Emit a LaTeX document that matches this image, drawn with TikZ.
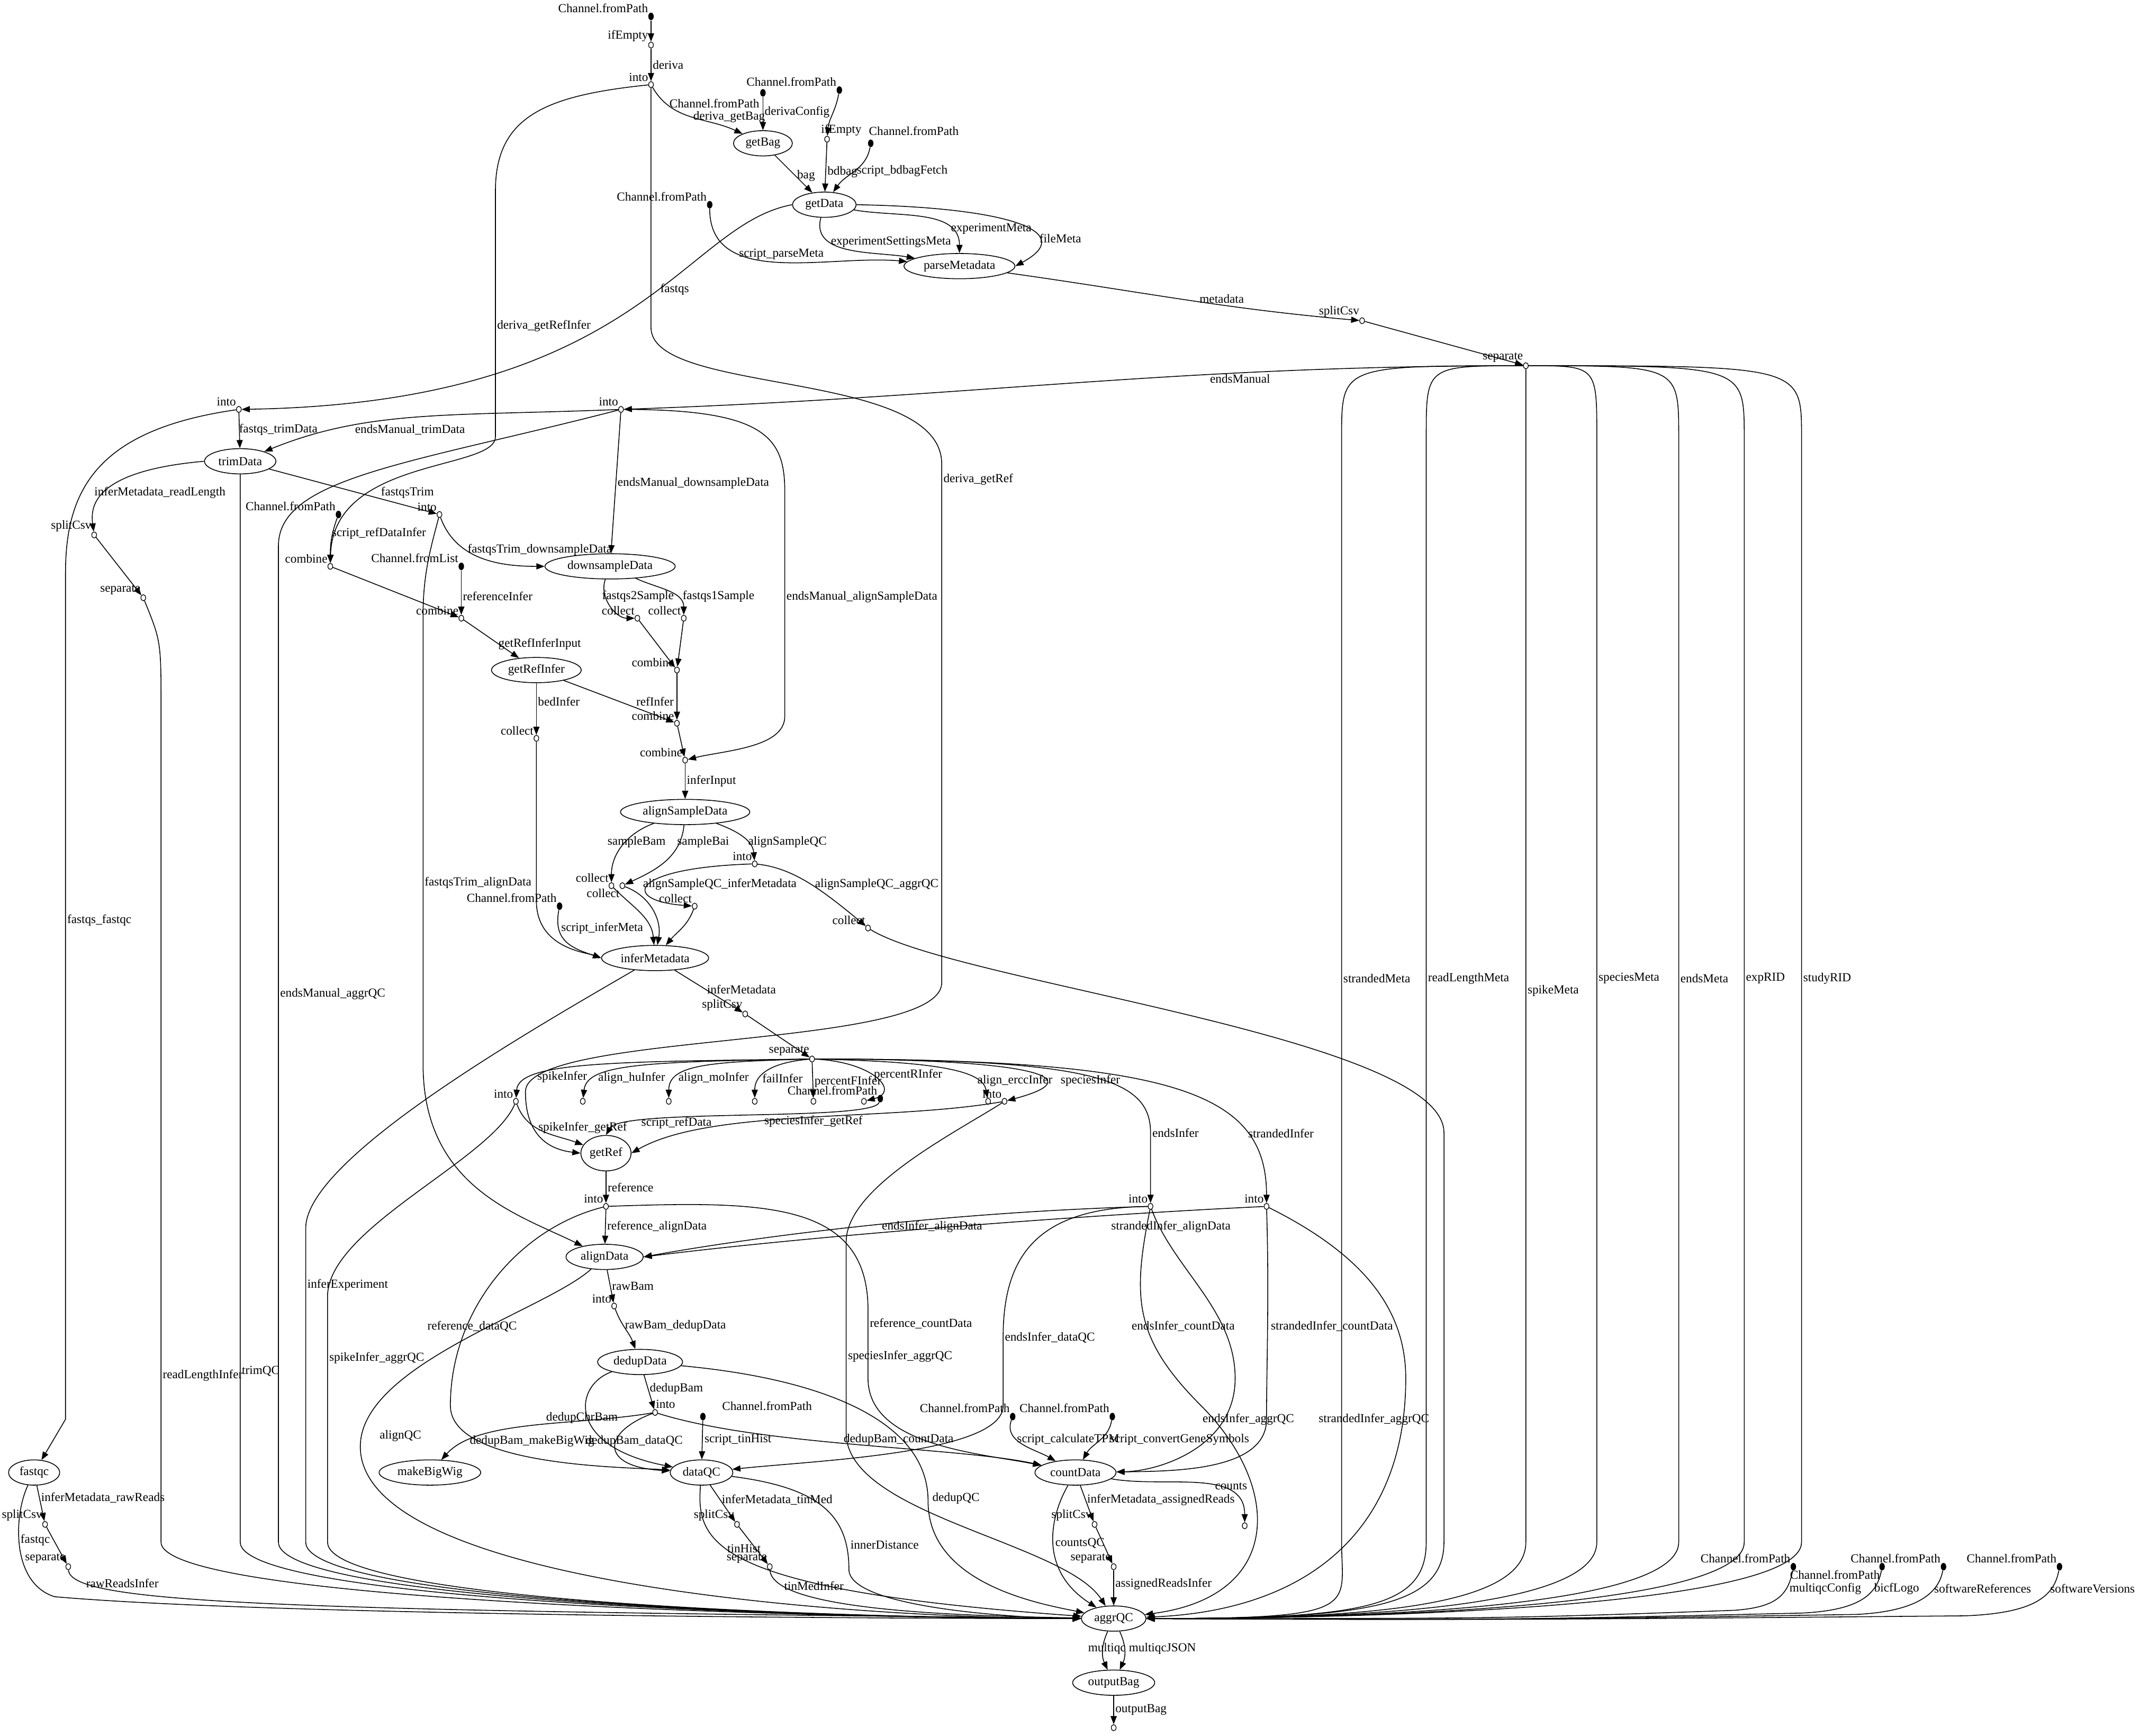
\documentclass[tikz,border=0pt]{standalone}
\usepackage{fontspec}
\setmainfont{Liberation Serif}
\usetikzlibrary{shapes.geometric,arrows.meta}
\newcommand\ptlabel[2]{\node[xlt,anchor=south east] at (#1.north west) {#2};}
\begin{document}
\begin{tikzpicture}[x=1pt,y=-1pt,font=\fontsize{9}{10}\selectfont,
  e/.style={-{Triangle[length=6pt,width=4.5pt]},line width=0.6pt},
  lab/.style={inner sep=1pt,anchor=west},
  xlt/.style={inner sep=0.5pt},
  op/.style={ellipse,draw,fill=white,minimum width=3.5pt,minimum height=4.5pt,inner sep=0,line width=0.5pt},
  src/.style={ellipse,fill=black,minimum width=4pt,minimum height=5.5pt,inner sep=0},
  proc/.style={ellipse,draw,inner xsep=2.5pt,inner ysep=0pt,minimum height=18.5pt,line width=0.6pt}]
\useasboundingbox (0,0) rectangle (1568,1272);
% ---------- nodes ----------
\node[src] (cfpA) at (477,12) {}; \ptlabel{cfpA}{Channel.fromPath}
\node[op] (ifE1) at (477,33) {}; \ptlabel{ifE1}{ifEmpty}
\node[op] (into1) at (477,62) {}; \ptlabel{into1}{into}
\node[src] (cfpB) at (559,68) {}; \node[xlt,anchor=east] at (557,76) {Channel.fromPath};
\node[src] (cfpC) at (615,66) {}; \ptlabel{cfpC}{Channel.fromPath}
\node[proc] (getBag) at (559,105) {getBag};
\node[op] (ifE2) at (606,102) {}; \node[xlt,anchor=south west] at (601,100) {ifEmpty};
\node[src] (cfpD) at (638,105) {}; \node[xlt,anchor=south west] at (636,100) {Channel.fromPath};
\node[proc] (getData) at (604,150) {getData};
\node[src] (cfpE) at (520,150) {}; \ptlabel{cfpE}{Channel.fromPath}
\node[proc] (parseMetadata) at (703,195) {parseMetadata};
\node[op] (split1) at (998,235) {}; \ptlabel{split1}{splitCsv}
\node[op] (sep1) at (1118,268) {}; \ptlabel{sep1}{separate}
\node[op] (into2) at (175,300) {}; \ptlabel{into2}{into}
\node[op] (into3) at (455,300) {}; \ptlabel{into3}{into}
\node[proc] (trimData) at (176,338) {trimData};
\node[op] (split2) at (69,392) {}; \ptlabel{split2}{splitCsv}
\node[op] (sep3) at (105,438) {}; \ptlabel{sep3}{separate}
\node[op] (into4) at (322,377) {}; \ptlabel{into4}{into}
\node[src] (cfpF) at (248,377) {}; \ptlabel{cfpF}{Channel.fromPath}
\node[op] (comb1) at (242,415) {}; \ptlabel{comb1}{combine}
\node[proc] (downsampleData) at (447,415) {downsampleData};
\node[src] (cfl) at (338,415) {}; \ptlabel{cfl}{Channel.fromList}
\node[op] (comb2) at (338,453) {}; \ptlabel{comb2}{combine}
\node[op] (coll1) at (467,453) {}; \ptlabel{coll1}{collect}
\node[op] (coll2) at (501,453) {}; \ptlabel{coll2}{collect}
\node[proc] (getRefInfer) at (393,491) {getRefInfer};
\node[op] (comb3) at (496,491) {}; \ptlabel{comb3}{combine}
\node[op] (comb4) at (496,530) {}; \ptlabel{comb4}{combine}
\node[op] (coll3) at (393,541) {}; \ptlabel{coll3}{collect}
\node[op] (comb5) at (502,557) {}; \ptlabel{comb5}{combine}
\node[proc] (alignSampleData) at (502,595) {alignSampleData};
\node[op] (into5) at (553,633) {}; \ptlabel{into5}{into}
\node[op] (coll4) at (448,649) {}; \ptlabel{coll4}{collect}
\node[op] (coll5) at (456,649) {}; \node[xlt,anchor=north east] at (coll5.south west) {collect};
\node[op] (coll6) at (509,664) {}; \ptlabel{coll6}{collect}
\node[op] (coll7) at (636,680) {}; \ptlabel{coll7}{collect}
\node[src] (cfpG) at (410,664) {}; \ptlabel{cfpG}{Channel.fromPath}
\node[proc] (inferMetadata) at (480,702) {inferMetadata};
\node[op] (split3) at (546,743) {}; \ptlabel{split3}{splitCsv}
\node[op] (sep4) at (595,776) {}; \ptlabel{sep4}{separate}
\node[op] (into6) at (378,807) {}; \ptlabel{into6}{into}
\node[op] (pHu) at (427,807) {};
\node[op] (pMo) at (490,807) {};
\node[op] (pFail) at (553,807) {};
\node[op] (pPF) at (596,807) {};
\node[op] (pPR) at (633,807) {};
\node[src] (cfpH) at (645,805) {}; \ptlabel{cfpH}{Channel.fromPath}
\node[op] (pErcc) at (724,807) {};
\node[op] (into7) at (736,807) {}; \ptlabel{into7}{into}
\node[proc,minimum width=26pt,minimum height=26pt,inner xsep=1pt] (getRef) at (444,845) {getRef};
\node[op] (into10) at (444,884) {}; \ptlabel{into10}{into}
\node[op] (into8) at (843,884) {}; \ptlabel{into8}{into}
\node[op] (into9) at (928,884) {}; \ptlabel{into9}{into}
\node[proc] (alignData) at (443,921) {alignData};
\node[op] (into11) at (450,957) {}; \ptlabel{into11}{into}
\node[proc] (dedupData) at (469,998) {dedupData};
\node[op] (into12) at (480,1035) {}; \node[xlt,anchor=south west] at (into12.north) {into};
\node[src] (cfpI) at (515,1038) {}; \node[xlt,anchor=south] at (562,1034) {Channel.fromPath};
\node[proc] (makeBigWig) at (315,1079) {makeBigWig};
\node[proc] (dataQC) at (514,1079) {dataQC};
\node[src] (cfpJ) at (742,1038) {}; \ptlabel{cfpJ}{Channel.fromPath}
\node[src] (cfpK) at (815,1038) {}; \ptlabel{cfpK}{Channel.fromPath}
\node[proc] (countData) at (788,1079) {countData};
\node[proc] (fastqc) at (25,1079) {fastqc};
\node[op] (split4) at (540,1117) {}; \ptlabel{split4}{splitCsv}
\node[op] (sep5) at (564,1148) {}; \ptlabel{sep5}{separate}
\node[op] (split5) at (802,1117) {}; \ptlabel{split5}{splitCsv}
\node[op] (sep6) at (816,1148) {}; \ptlabel{sep6}{separate}
\node[op] (pCounts) at (912,1118) {};
\node[op] (split6) at (33,1117) {}; \ptlabel{split6}{splitCsv}
\node[op] (sep7) at (50,1148) {}; \ptlabel{sep7}{separate}
\node[src] (cfpL) at (1314,1148) {}; \ptlabel{cfpL}{Channel.fromPath}
\node[src] (cfpM) at (1379,1148) {}; \node[xlt,anchor=east] at (1378,1154) {Channel.fromPath};
\node[src] (cfpN) at (1424,1148) {}; \ptlabel{cfpN}{Channel.fromPath}
\node[src] (cfpO) at (1509,1148) {}; \ptlabel{cfpO}{Channel.fromPath}
\node[proc] (aggrQC) at (816,1186) {aggrQC};
\node[proc] (outputBag) at (816,1233) {outputBag};
\node[op] (pOut) at (816,1266) {};
% ---------- edges: top ----------
\draw[e] (cfpA) -- (ifE1);
\draw[e] (ifE1) -- node[lab]{deriva} (into1);
\draw[e] (into1) to[out=-60,in=155] node[lab,pos=0.5]{deriva\_getBag} (getBag);
\draw[e] (cfpB) -- node[lab,pos=0.45]{derivaConfig} (getBag);
\draw[e] (cfpC) to[out=-100,in=85] (ifE2);
\draw[e] (getBag) -- node[lab,pos=0.55]{bag} (getData);
\draw[e] (ifE2) -- node[lab,pos=0.6]{bdbag} (getData);
\draw[e] (cfpD) to[out=-100,in=55] node[lab,pos=0.5]{script\_bdbagFetch} (getData);
\draw[e] (cfpE) to[out=-90,in=175] node[lab,pos=0.3]{script\_parseMeta} (parseMetadata);
\draw[e] (getData) to[out=-105,in=170] node[lab,pos=0.3]{experimentSettingsMeta} (parseMetadata);
\draw[e] (getData) to[out=-10,in=90] node[lab,pos=0.75]{experimentMeta} (parseMetadata);
\draw[e] (getData.east) .. controls (740,152) and (790,170) .. node[lab,pos=0.7]{fileMeta} (parseMetadata.east);
\draw[e] (parseMetadata) to[out=-8,in=175] node[lab,pos=0.62,anchor=south]{metadata} (split1);
\draw[e] (split1) -- (sep1);
\draw[e] (getData.west) .. controls (500,165) and (470,295) .. node[lab,pos=0.42]{fastqs} (into2);
\draw[e] (into1) .. controls (400,70) and (363,85) .. (363,140) -- node[lab,pos=0.55]{deriva\_getRefInfer} (363,320) .. controls (363,345) and (244,335) .. (comb1);
\draw[e] (into1) -- (477,240) .. controls (477,290) and (690,270) .. (690,340) -- node[lab,pos=0.03]{deriva\_getRef} (690,720) .. controls (690,770) and (385,755) .. (385,800) .. controls (385,830) and (400,842) .. (getRef.west);
% ---------- separate 1 ----------
\draw[e] (sep1) to[out=180,in=2] node[lab,pos=0.3,anchor=north]{endsManual} (into3);
\foreach \X/\T in {983/strandedMeta,1045/readLengthMeta,1170/speciesMeta,1230/endsMeta,1278/expRID,1320/studyRID}{
  \draw[e] (sep1) .. controls (\X,268) .. (\X,320) -- node[lab,pos=0.49]{\T} (\X,1130) .. controls (\X,1178) and (1000,1186) .. (aggrQC);
}
\draw[e] (sep1) -- node[lab,pos=0.53]{spikeMeta} (1118,1130) .. controls (1118,1178) and (1000,1186) .. (aggrQC);
% ---------- left ----------
\draw[e] (into2) -- (trimData); \node[lab] at (174,315) {fastqs\_trimData};
\draw[e] (into2) .. controls (70,315) and (48,360) .. (48,420) -- node[lab,pos=0.41]{fastqs\_fastqc} (48,1040) -- (fastqc);
\draw[e] (into3) .. controls (330,305) and (270,300) .. (trimData); \node[lab] at (259,315) {endsManual\_trimData};
\draw[e] (into3) -- node[lab]{endsManual\_downsampleData} (downsampleData);
\draw[e] (into3) .. controls (560,300) and (575,320) .. (575,360) -- node[lab,pos=0.47]{endsManual\_alignSampleData} (575,525) .. controls (575,548) and (530,550) .. (comb5);
\draw[e] (into3) .. controls (300,340) and (204,350) .. (204,400) -- node[lab,pos=0.45]{endsManual\_aggrQC} (204,1130) .. controls (204,1176) and (650,1186) .. (aggrQC);
\draw[e] (trimData.west) .. controls (70,345) and (66,370) .. (split2); \node[lab] at (68,361) {inferMetadata\_readLength};
\draw[e] (split2) -- (sep3);
\draw[e] (sep3) .. controls (118,470) .. (118,520) -- node[lab,pos=0.8]{readLengthInfer} (118,1130) .. controls (118,1176) and (650,1186) .. (aggrQC);
\draw[e] (trimData) -- node[lab,pos=0.84]{trimQC} (176,1130) .. controls (176,1176) and (650,1186) .. (aggrQC);
\draw[e] (trimData) -- (into4); \node[lab] at (278,361) {fastqsTrim};
\draw[e] (into4) to[out=-70,in=180] node[lab,pos=0.35]{fastqsTrim\_downsampleData} (downsampleData);
\draw[e] (into4) .. controls (316,400) and (310,420) .. (310,450) -- (310,780) .. controls (310,870) and (380,890) .. (alignData);
\node[lab] at (310,647) {fastqsTrim\_alignData};
\draw[e] (cfpF) to[out=-110,in=90] (comb1); \node[lab] at (242,391) {script\_refDataInfer};
\draw[e] (comb1) -- (comb2);
\draw[e] (cfl) -- (comb2); \node[lab] at (338,437) {referenceInfer};
\draw[e] (comb2) -- (getRefInfer); \node[lab] at (364,472) {getRefInferInput};
\draw[e] (downsampleData) to[out=-110,in=180] (coll1); \node[lab] at (440,437) {fastqs2Sample};
\draw[e] (downsampleData) to[out=-25,in=90] (coll2); \node[lab] at (499,437) {fastqs1Sample};
\draw[e] (coll1) -- (comb3);
\draw[e] (coll2) -- (comb3);
\draw[e] (comb3) -- (comb4);
\draw[e] (getRefInfer) -- (comb4); \node[lab] at (465,514) {refInfer};
\draw[e] (comb4) -- (comb5);
\draw[e] (comb5) -- node[lab]{inferInput} (alignSampleData);
\draw[e] (getRefInfer) -- (coll3); \node[lab] at (393,514) {bedInfer};
\draw[e] (coll3) -- (393,660) .. controls (393,695) and (430,698) .. (inferMetadata.west);
\draw[e] (alignSampleData) to[out=200,in=90] (coll4); \node[lab] at (444,617) {sampleBam};
\draw[e] (alignSampleData) to[out=-95,in=25] (coll5); \node[lab] at (495,617) {sampleBai};
\draw[e] (alignSampleData) to[out=-20,in=95] (into5); \node[lab] at (547,617) {alignSampleQC};
\draw[e] (into5) .. controls (460,636) and (455,660) .. (coll6); \node[lab] at (470,648) {alignSampleQC\_inferMetadata};
\draw[e] (into5) .. controls (580,636) and (600,650) .. (coll7); \node[lab] at (596,648) {alignSampleQC\_aggrQC};
\draw[e] (coll4) to[out=-45,in=95] (inferMetadata);
\draw[e] (coll5) to[out=-20,in=80] (inferMetadata);
\draw[e] (coll6) to[out=-110,in=50] (inferMetadata);
\draw[e] (coll7) .. controls (700,720) and (1058,760) .. (1058,830) -- (1058,1130) .. controls (1058,1178) and (1000,1186) .. (aggrQC);
\draw[e] (cfpG) .. controls (405,690) and (420,695) .. (inferMetadata.west); \node[lab] at (410,680) {script\_inferMeta};
\draw[e] (inferMetadata) -- node[lab,pos=0.45]{inferMetadata} (split3);
\draw[e] (split3) -- (sep4);
\draw[e] (inferMetadata) .. controls (380,760) and (224,850) .. (224,900) -- node[lab,pos=0.18]{inferExperiment} (224,1130) .. controls (224,1176) and (650,1186) .. (aggrQC);
% ---------- separate 4 ----------
\draw[e] (sep4) .. controls (450,778) and (380,778) .. node[lab,pos=0.75]{spikeInfer} (into6);
\draw[e] (sep4) .. controls (470,778) and (430,780) .. node[lab,pos=0.75]{align\_huInfer} (pHu);
\draw[e] (sep4) .. controls (520,778) and (490,780) .. node[lab,pos=0.75]{align\_moInfer} (pMo);
\draw[e] (sep4) .. controls (570,778) and (553,785) .. node[lab,pos=0.7]{failInfer} (pFail);
\draw[e] (sep4) -- node[lab,pos=0.55]{percentFInfer} (pPF);
\draw[e] (sep4) .. controls (640,778) and (660,800) .. node[lab,pos=0.45]{percentRInfer} (pPR);
\draw[e] (sep4) .. controls (690,778) and (720,785) .. (pErcc); \node[lab] at (715,792) {align\_erccInfer};
\draw[e] (sep4) .. controls (760,776) and (800,790) .. (into7); \node[lab] at (776,792) {speciesInfer};
\draw[e] (sep4) .. controls (800,776) and (843,790) .. (843,830) -- node[lab,pos=0]{endsInfer} (into8);
\draw[e] (sep4) .. controls (860,776) and (928,800) .. node[lab,pos=0.75]{strandedInfer} (into9);
\draw[e] (cfpH) .. controls (640,822) and (455,812) .. node[lab,pos=0.8]{script\_refData} (getRef.north);
\draw[e] (into7) .. controls (650,822) and (520,812) .. node[lab,pos=0.6]{speciesInfer\_getRef} (getRef.east);
\draw[e] (into6) to[out=-70,in=160] node[lab,pos=0.4]{spikeInfer\_getRef} (getRef);
\draw[e] (into6) .. controls (360,850) and (240,900) .. (240,950) -- node[lab,pos=0.25]{spikeInfer\_aggrQC} (240,1130) .. controls (240,1176) and (650,1186) .. (aggrQC);
\draw[e] (into7) .. controls (700,830) and (620,870) .. (620,910) -- node[lab,pos=0.6]{speciesInfer\_aggrQC} (620,1050) .. controls (620,1110) and (780,1130) .. (aggrQC);
% ---------- getRef and below ----------
\draw[e] (getRef) -- node[lab,pos=0.5]{reference} (into10);
\draw[e] (into10) -- node[lab]{reference\_alignData} (alignData);
\draw[e] (into10) .. controls (380,900) and (330,960) .. (330,1030) .. controls (330,1075) and (460,1075) .. (dataQC);
\node[lab] at (312,972) {reference\_dataQC};
\draw[e] (into10) .. controls (560,880) and (636,880) .. (636,960) -- node[lab,pos=0.2]{reference\_countData} (636,1010) .. controls (636,1060) and (720,1065) .. (countData);
\draw[e] (into8) .. controls (700,888) and (560,905) .. (alignData.east); \node[lab] at (645,899) {endsInfer\_alignData};
\draw[e] (into9) .. controls (800,890) and (600,905) .. (alignData.east); \node[lab] at (813,899) {strandedInfer\_alignData};
\draw[e] (into8) .. controls (760,885) and (735,920) .. (735,980) -- node[lab,pos=0]{endsInfer\_dataQC} (735,1030) .. controls (735,1065) and (600,1070) .. (dataQC);
\draw[e] (into8) .. controls (860,930) and (905,960) .. (905,1010) .. controls (905,1060) and (850,1078) .. (countData);
\node[lab] at (828,972) {endsInfer\_countData};
\draw[e] (into8) .. controls (830,950) and (830,980) .. (880,1030) .. controls (940,1090) and (940,1170) .. (aggrQC);
\node[lab] at (880,1040) {endsInfer\_aggrQC};
\draw[e] (into9) .. controls (930,950) and (928,1000) .. (928,1040) .. controls (928,1078) and (860,1078) .. (countData);
\node[lab] at (930,972) {strandedInfer\_countData};
\draw[e] (into9) .. controls (1000,920) and (1030,960) .. (1030,1010) .. controls (1030,1120) and (960,1180) .. (aggrQC);
\node[lab] at (965,1040) {strandedInfer\_aggrQC};
\draw[e] (alignData) -- node[lab]{rawBam} (into11);
\draw[e] (alignData) .. controls (400,960) and (264,1000) .. (264,1060) .. controls (264,1165) and (650,1186) .. (aggrQC);
\node[lab] at (277,1052) {alignQC};
\draw[e] (into11) to[out=-70,in=110] node[lab,pos=0.4]{rawBam\_dedupData} (dedupData);
\draw[e] (dedupData) -- node[lab,pos=0.4]{dedupBam} (into12);
\draw[e] (dedupData) .. controls (420,1015) and (415,1060) .. (dataQC); \node[lab] at (399,1039) {dedupChrBam};
\draw[e] (dedupData) .. controls (600,1010) and (680,1040) .. (680,1100) .. controls (680,1160) and (760,1175) .. (aggrQC);
\node[lab] at (682,1098) {dedupQC};
\draw[e] (into12) .. controls (420,1045) and (350,1040) .. (makeBigWig); \node[lab] at (343,1056) {dedupBam\_makeBigWig};
\draw[e] (into12) .. controls (440,1050) and (440,1075) .. (dataQC); \node[lab] at (428,1056) {dedupBam\_dataQC};
\draw[e] (into12) .. controls (560,1060) and (700,1060) .. (countData); \node[lab] at (617,1055) {dedupBam\_countData};
\draw[e] (cfpI) -- (dataQC); \node[lab] at (515,1055) {script\_tinHist};
\draw[e] (cfpJ) to[out=-110,in=150] (countData); \node[lab] at (744,1055) {script\_calculateTPM};
\draw[e] (cfpK) to[out=-100,in=60] (countData); \node[lab] at (812,1055) {script\_convertGeneSymbols};
\draw[e] (dataQC) -- node[lab,pos=0.4]{inferMetadata\_tinMed} (split4);
\draw[e] (split4) -- (sep5);
\draw[e] (dataQC) .. controls (510,1130) and (520,1165) .. node[lab,pos=0.4]{tinHist} (aggrQC);
\draw[e] (dataQC) .. controls (600,1090) and (622,1110) .. (622,1150) .. controls (622,1180) and (760,1186) .. (aggrQC);
\node[lab] at (622,1132) {innerDistance};
\draw[e] (sep5) .. controls (566,1180) and (700,1184) .. node[lab,pos=0.15]{tinMedInfer} (aggrQC);
\draw[e] (countData) -- node[lab,pos=0.4]{inferMetadata\_assignedReads} (split5);
\draw[e] (split5) -- (sep6);
\draw[e] (sep6) -- node[lab,pos=0.4]{assignedReadsInfer} (aggrQC);
\draw[e] (countData) to[out=-10,in=90] node[lab,pos=0.6]{counts} (pCounts);
\draw[e] (countData) .. controls (770,1110) and (760,1150) .. node[lab,pos=0.5]{countsQC} (aggrQC);
\draw[e] (fastqc) -- node[lab,pos=0.35]{inferMetadata\_rawReads} (split6);
\draw[e] (split6) -- (sep7);
\draw[e] (fastqc) .. controls (10,1110) and (8,1160) .. node[lab,pos=0.45]{fastqc} (40,1170) .. controls (200,1184) and (650,1186) .. (aggrQC);
\draw[e] (sep7) .. controls (52,1175) and (200,1180) .. node[lab,pos=0.15]{rawReadsInfer} (aggrQC);
\draw[e] (cfpL) .. controls (1310,1170) and (1300,1178) .. (1270,1180) .. controls (1100,1186) .. (aggrQC); \node[lab] at (1310,1164) {multiqcConfig};
\draw[e] (cfpM) .. controls (1375,1170) and (1360,1180) .. (1320,1182) .. controls (1100,1187) .. (aggrQC); \node[lab] at (1372,1164) {bicfLogo};
\draw[e] (cfpN) .. controls (1420,1170) and (1400,1181) .. (1360,1183) .. controls (1100,1187) .. (aggrQC); \node[lab] at (1416,1164) {softwareReferences};
\draw[e] (cfpO) .. controls (1505,1170) and (1490,1182) .. (1440,1184) .. controls (1100,1187) .. (aggrQC); \node[lab] at (1501,1164) {softwareVersions};
\draw[e] (aggrQC) to[out=-115,in=115] (outputBag); \node[lab,anchor=east] at (826,1208) {multiqc};
\draw[e] (aggrQC) to[out=-65,in=65] (outputBag); \node[lab] at (826,1208) {multiqcJSON};
\draw[e] (outputBag) -- node[lab]{outputBag} (pOut);
\end{tikzpicture}
\end{document}
